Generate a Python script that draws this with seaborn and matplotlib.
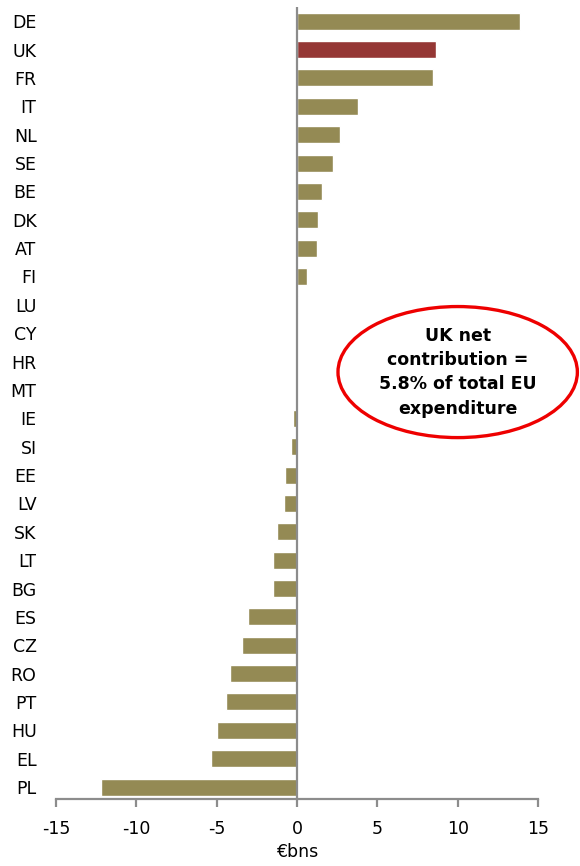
import seaborn as sns
import matplotlib.pyplot as plt
from matplotlib.patches import Ellipse

# net contribution to EU budget, € bn
countries = ["DE", "UK", "FR", "IT", "NL", "SE", "BE", "DK", "AT", "FI",
             "LU", "CY", "HR", "MT", "IE", "SI", "EE", "LV", "SK", "LT",
             "BG", "ES", "CZ", "RO", "PT", "HU", "EL", "PL"]
net = [13.87, 8.66, 8.48, 3.82, 2.70, 2.24, 1.57, 1.29, 1.27, 0.62,
       0.05, 0.01, 0.01, -0.05, -0.28, -0.39, -0.76, -0.81, -1.27, -1.50,
       -1.52, -3.06, -3.41, -4.15, -4.42, -4.95, -5.35, -12.23]
xticks = [-15, -10, -5, 0, 5, 10, 15]
note = "UK net\ncontribution =\n5.8% of total EU\nexpenditure"

olive = "#948A54"
red = "#953735"
colors = [red if c == "UK" else olive for c in countries]

sns.set_style("white")
plt.rcParams["font.family"] = ["DejaVu Sans"]
plt.rcParams["text.color"] = "black"
plt.rcParams["xtick.color"] = "black"
plt.rcParams["ytick.color"] = "black"
plt.rcParams["axes.labelcolor"] = "black"

fig = plt.figure(figsize=(5.8, 8.66), dpi=100)
ax = fig.add_axes([0.0966, 0.0774, 0.831, 0.9145])

sns.barplot(x=net, y=countries, hue=countries, palette=colors, legend=False,
            orient="h", width=0.6, saturation=1, ax=ax)

ax.axvline(0, color="#8c8c8c", lw=1.6, zorder=3)
ax.set_xlim(-15, 15)
ax.set_ylim(27.42, -0.5)
ax.set_xticks(xticks)
ax.set_xticklabels([str(t) for t in xticks], fontsize=12.5)
ax.set_xlabel("€bns", fontsize=12.5, labelpad=4)
ax.set_ylabel("")
for lbl in ax.get_yticklabels():
    lbl.set_fontsize(12.5)

for s in ["top", "right", "left"]:
    ax.spines[s].set_visible(False)
ax.spines["bottom"].set_color("#8c8c8c")
ax.spines["bottom"].set_linewidth(1.6)
ax.tick_params(axis="x", bottom=True, direction="out", length=6, width=1.6,
               color="#8c8c8c", labelcolor="black", pad=9)
ax.tick_params(axis="y", left=False, length=0, pad=14, labelcolor="black")

ell = Ellipse((10.0, 12.37), width=14.9, height=4.62, fill=False,
              edgecolor="#ee0000", lw=2.4, clip_on=False, zorder=4)
ax.add_patch(ell)
ax.text(10.0, 12.37, note, ha="center", va="center", fontsize=12.5,
        fontweight="bold", linespacing=1.45, color="black")

fig.savefig("out.png", dpi=100)
